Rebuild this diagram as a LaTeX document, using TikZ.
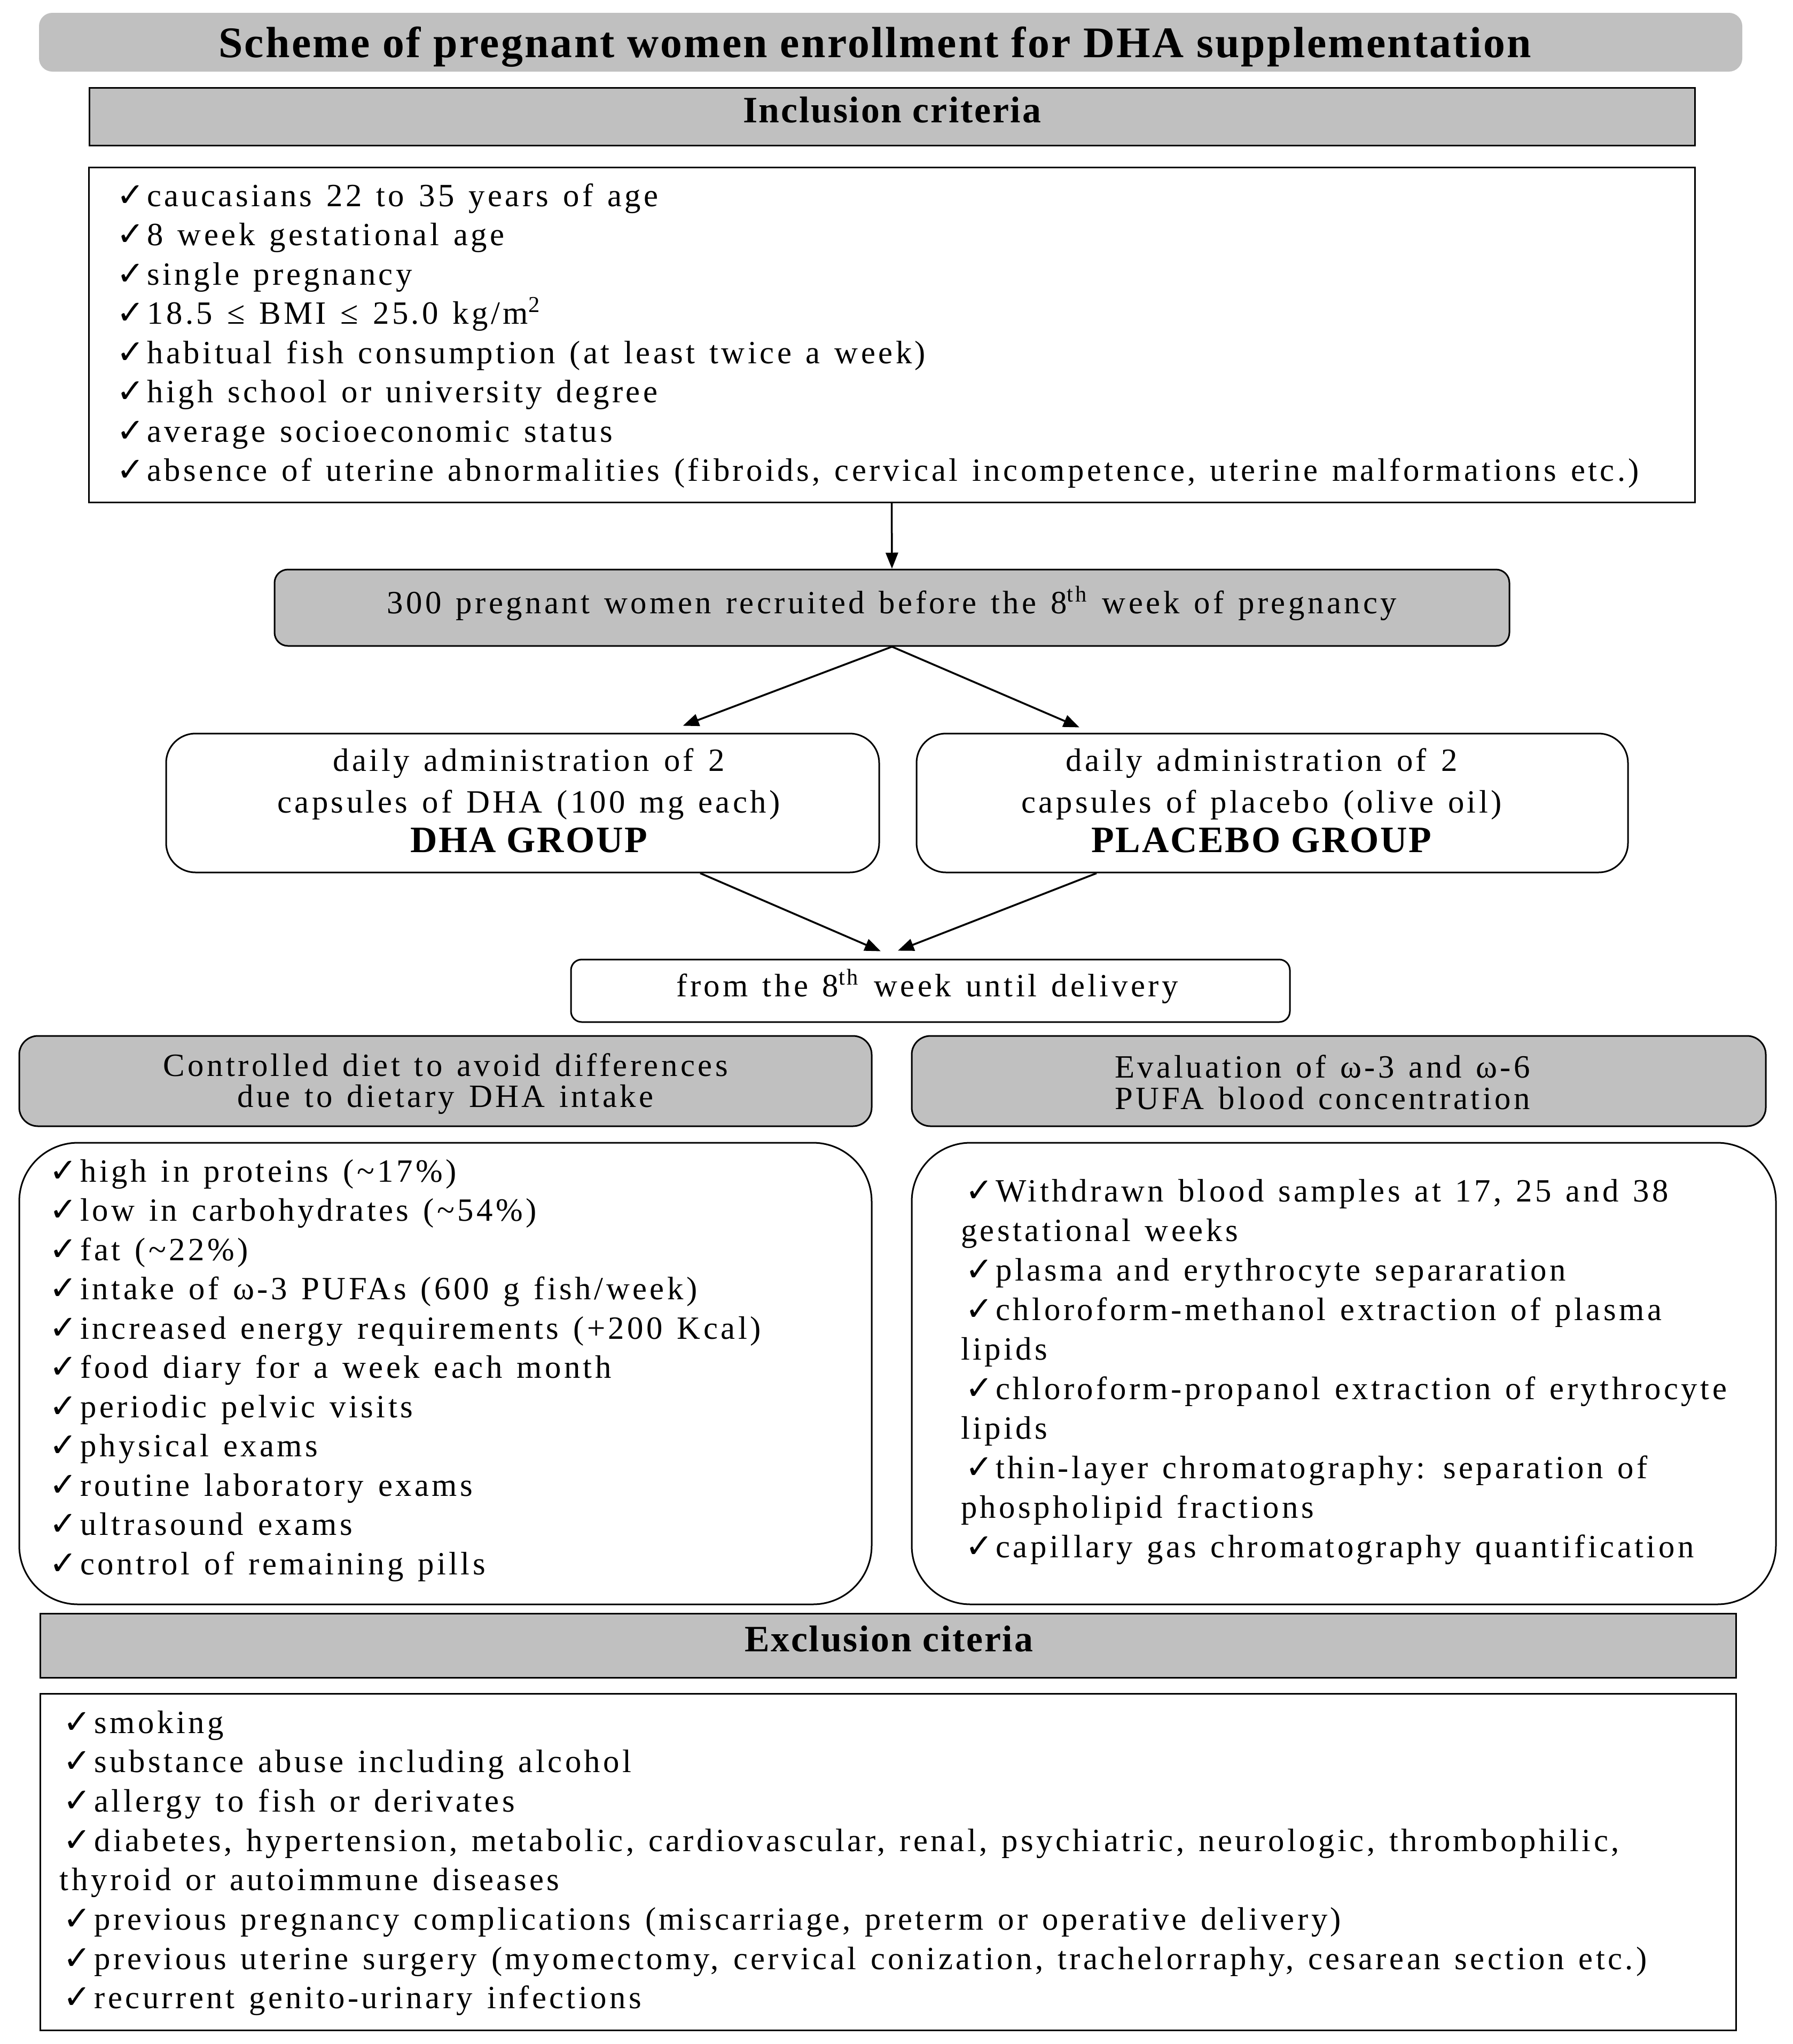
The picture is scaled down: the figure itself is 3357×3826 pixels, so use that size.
\documentclass[tikz,border=0pt]{standalone}
\usepackage{fontspec}
\setmainfont{Liberation Serif}
\newfontfamily\bodyfont{Liberation Serif}[LetterSpace=9,WordSpace=1.3]
\newfontfamily\headfont{Liberation Serif}[LetterSpace=4]
\newfontfamily\checkfont{DejaVu Sans}
\usetikzlibrary{fit,calc,arrows.meta}
\definecolor{boxgray}{HTML}{C0C0C0}
\newcommand\chk{\makebox[11.5bp][l]{\checkfont\fontsize{12.5}{14}\selectfont ✓}}
\tikzset{
  box/.style={draw=black, line width=0.6bp, inner sep=0pt},
  grayfill/.style={fill=boxgray},
  txt/.style={inner sep=0pt, font=\bodyfont\fontsize{12.2}{13.8}\selectfont},
  lst/.style={txt, anchor=base west},
  ctr/.style={txt, anchor=base},
  boldtxt/.style={inner sep=0pt, anchor=base, font=\headfont\bfseries\fontsize{14}{16}\selectfont},
  arrow/.style={-{Triangle[length=6bp,width=4.6bp]}, line width=0.7bp},
}
\begin{document}
\begin{tikzpicture}[x=0.2bp,y=-0.2bp]
\useasboundingbox (0,0) rectangle (3357,3826);
% ---------- boxes ----------
\node[grayfill, inner sep=0pt, rounded corners=5bp, fit={(73,24) (3262,134)}] (titlebox) {};
\node[box, grayfill, fit={(167,164) (3173,272)}] (inchead) {};
\node[box, fit={(166,313) (3173,940)}] (inc) {};
\node[box, grayfill, rounded corners=5bp, fit={(514,1066) (2826,1209)}] (recruit) {};
\node[box, rounded corners=11bp, fit={(311,1373) (1646,1633)}] (dha) {};
\node[box, rounded corners=11bp, fit={(1716,1373) (3048,1633)}] (placebo) {};
\node[box, rounded corners=4bp, fit={(1069,1796) (2415,1913)}] (from) {};
\node[box, grayfill, rounded corners=7bp, fit={(36,1939) (1632,2108)}] (diethead) {};
\node[box, grayfill, rounded corners=7bp, fit={(1707,1939) (3306,2108)}] (evalhead) {};
\node[box, rounded corners=22bp, fit={(36,2139) (1632,3003)}] (diet) {};
\node[box, rounded corners=22bp, fit={(1707,2139) (3325,3003)}] (eval) {};
\node[box, grayfill, fit={(75,3020) (3250,3140)}] (exchead) {};
\node[box, fit={(75,3170) (3250,3800)}] (exc) {};
% ---------- texts ----------
\node[inner sep=0pt, anchor=base, font=\headfont\bfseries\fontsize{16.4}{19}\selectfont] (title) at (1638,107) {Scheme of pregnant women enrollment for DHA supplementation};
\node[boldtxt] (incheadtxt) at (1670,229) {Inclusion criteria};
\foreach \itm [count=\i] in {
  {caucasians 22 to 35 years of age},
  {8 week gestational age},
  {single pregnancy},
  {18.5 ≤ BMI ≤ 25.0 kg/m\textsuperscript{2}},
  {habitual fish consumption (at least twice a week)},
  {high school or university degree},
  {average socioeconomic status},
  {absence of uterine abnormalities (fibroids, cervical incompetence, uterine malformations etc.)}}
  \node[lst] (inc\i) at (217,{386+73.5*(\i-1)}) {\chk\itm};
\node[ctr] (recruittxt) at (1670,1148) {300 pregnant women recruited before the 8\textsuperscript{th} week of pregnancy};
\node[ctr] (dha1) at (990,1443) {daily administration of 2};
\node[ctr] (dha2) at (990,1521) {capsules of DHA (100 mg each)};
\node[boldtxt] (dha3) at (990,1595) {DHA GROUP};
\node[ctr] (pla1) at (2362,1443) {daily administration of 2};
\node[ctr] (pla2) at (2362,1521) {capsules of placebo (olive oil)};
\node[boldtxt] (pla3) at (2362,1595) {PLACEBO GROUP};
\node[ctr] (fromtxt) at (1736,1865) {from the 8\textsuperscript{th} week until delivery};
\node[ctr] (diethead1) at (834,2014) {Controlled diet to avoid differences};
\node[ctr] (diethead2) at (834,2072) {due to dietary DHA intake};
\node[ctr] (evalhead1) at (2476,2017) {Evaluation of ω-3 and ω-6};
\node[ctr] (evalhead2) at (2476,2076) {PUFA blood concentration};
\foreach \itm [count=\i] in {
  {high in proteins (\textasciitilde17\%)},
  {low in carbohydrates (\textasciitilde54\%)},
  {fat (\textasciitilde22\%)},
  {intake of ω-3 PUFAs (600 g fish/week)},
  {increased energy requirements (+200 Kcal)},
  {food diary for a week each month},
  {periodic pelvic visits},
  {physical exams},
  {routine laboratory exams},
  {ultrasound exams},
  {control of remaining pills}}
  \node[lst] (diet\i) at (92,{2212+73.5*(\i-1)}) {\chk\itm};
\foreach \xx/\itm [count=\i] in {
  1806/{\chk Withdrawn blood samples at 17, 25 and 38},
  1798/{gestational weeks},
  1806/{\chk plasma and erythrocyte separaration},
  1806/{\chk chloroform-methanol extraction of plasma},
  1798/{lipids},
  1806/{\chk chloroform-propanol extraction of erythrocyte},
  1798/{lipids},
  1806/{\chk thin-layer chromatography: separation of},
  1798/{phospholipid fractions},
  1806/{\chk capillary gas chromatography quantification}}
  \node[lst] (eval\i) at (\xx,{2249+74*(\i-1)}) {\itm};
\node[boldtxt] (excheadtxt) at (1664,3091) {Exclusion citeria};
\foreach \xx/\itm [count=\i] in {
  118/{\chk smoking},
  118/{\chk substance abuse including alcohol},
  118/{\chk allergy to fish or derivates},
  118/{\chk diabetes, hypertension, metabolic, cardiovascular, renal, psychiatric, neurologic, thrombophilic,},
  111/{thyroid or autoimmune diseases},
  118/{\chk previous pregnancy complications (miscarriage, preterm or operative delivery)},
  118/{\chk previous uterine surgery (myomectomy, cervical conization, trachelorraphy, cesarean section etc.)},
  118/{\chk recurrent genito-urinary infections}}
  \node[lst] (exc\i) at (\xx,{3244+73.7*(\i-1)}) {\itm};
% ---------- connectors ----------
\draw[arrow] (inc.south) -- (recruit.north);
\draw[arrow] (recruit.south) -- ([xshift=60bp,yshift=2.6bp]dha.north);
\draw[arrow] (recruit.south) -- ([xshift=-72.2bp,yshift=2bp]placebo.north);
\draw[arrow] ([xshift=66.5bp]dha.south) -- ([xshift=-18.6bp,yshift=2.8bp]from.north);
\draw[arrow] ([xshift=-65.8bp]placebo.south) -- ([xshift=-12.2bp,yshift=3bp]from.north);
\end{tikzpicture}
\end{document}
